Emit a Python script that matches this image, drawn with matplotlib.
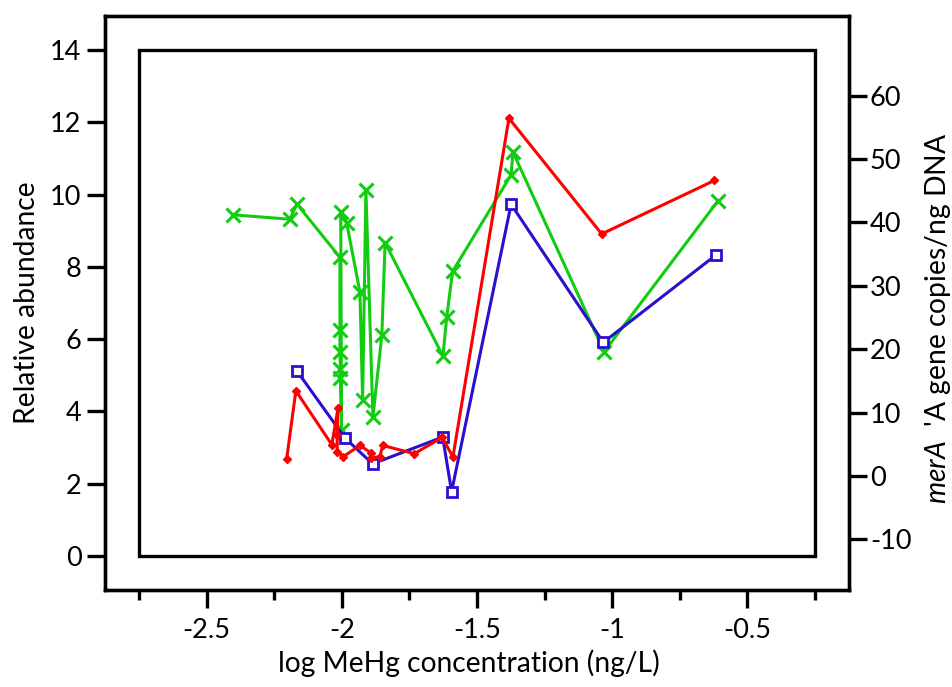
import numpy as np
import matplotlib
matplotlib.use("Agg")
import matplotlib.pyplot as plt
from matplotlib.patches import Rectangle
from matplotlib.ticker import FixedLocator, FuncFormatter

plt.rcParams['font.family'] = ['Lato', 'DejaVu Sans']
plt.rcParams['mathtext.fontset'] = 'custom'
plt.rcParams['mathtext.it'] = 'Lato:italic'
plt.rcParams['mathtext.rm'] = 'Lato'

# log MeHg concentration (ng/L) and relative abundance (left axis)
x_red = [-2.204, -2.170, -2.037, -2.014, -2.017, -2.017, -1.994, -1.933, -1.892,
         -1.892, -1.859, -1.849, -1.732, -1.629, -1.589, -1.382, -1.039, -0.622]
red = [2.68, 4.57, 3.08, 4.09, 3.35, 2.89, 2.75, 3.06, 2.85,
       2.71, 2.75, 3.06, 2.83, 3.28, 2.74, 12.11, 8.91, 10.39]

x_blue = [-2.167, -1.988, -1.886, -1.627, -1.594, -1.374, -1.033, -0.616]
blue = [5.13, 3.26, 2.55, 3.29, 1.78, 9.73, 5.91, 8.33]

# merA gene copies/ng DNA (right axis)
x_green = [-2.402, -2.192, -2.166, -2.007, -2.007, -2.007, -2.005, -2.005,
           -2.001, -2.004, -1.982, -1.933, -1.923, -1.911, -1.885, -1.852,
           -1.840, -1.626, -1.612, -1.590, -1.374, -1.367, -1.030, -0.609]
green = [41.2, 40.5, 42.9, 34.5, 23.0, 19.6, 16.9, 15.4,
         7.2, 41.7, 39.9, 29.0, 12.0, 45.1, 9.3, 22.2,
         36.8, 18.9, 25.1, 32.3, 47.5, 51.1, 19.6, 43.4]

x_ticks = [-2.5, -2, -1.5, -1, -0.5]
x_minor = [-2.75, -2.25, -1.75, -1.25, -0.75, -0.25]
left_ticks = [0, 2, 4, 6, 8, 10, 12, 14]
right_ticks = [-10, 0, 10, 20, 30, 40, 50, 60]

LW = 2.4
FS = 19.5     # tick labels
LFS = 20.3    # axis titles

fig = plt.figure(figsize=(9.53, 6.87), dpi=100)
ax = fig.add_axes([0.1102, 0.1412, 0.7807, 0.8355])
ax2 = ax.twinx()

# green on the right axis, drawn below the left-axis series
ax2.plot(x_green, green, color='#11cc11', lw=2.2, marker='x',
         markersize=10, mew=2.2, zorder=2)
ax.set_zorder(ax2.get_zorder() + 1)
ax.patch.set_visible(False)

ax.plot(x_blue, blue, color='#2a0fd0', lw=2.2, marker='s', markersize=7,
        mfc='white', mew=2.0, zorder=3)
ax.plot(x_red, red, color='#ff0000', lw=2.2, marker='D', markersize=4.5,
        mew=1.0, zorder=4)

# inner frame
ax.add_patch(Rectangle((-2.75, 0), 2.5, 14, fill=False, lw=LW,
                       edgecolor='black', zorder=1))

ax.set_xlim(-2.8757, -0.1243)
ax.set_ylim(-0.941, 14.94)
ax2.set_ylim(-18.0, 72.57)

ax.set_xticks(x_ticks)
ax.xaxis.set_minor_locator(FixedLocator(x_minor))
ax.xaxis.set_major_formatter(FuncFormatter(lambda v, p: f"{v:g}"))
ax.set_yticks(left_ticks)
ax2.set_yticks(right_ticks)
ax2.yaxis.set_major_formatter(FuncFormatter(lambda v, p: f"{v:g}"))

for a in (ax, ax2):
    for s in a.spines.values():
        s.set_linewidth(LW)

ax.tick_params(axis='x', which='major', direction='out', length=13, width=LW,
               labelsize=FS, pad=7)
ax.tick_params(axis='x', which='minor', direction='out', length=7, width=LW)
ax.tick_params(axis='y', direction='out', length=13, width=LW, labelsize=FS, pad=4)
ax2.tick_params(axis='y', direction='out', length=13, width=LW, labelsize=FS, pad=2)

ax.set_xlabel('log MeHg concentration (ng/L)', fontsize=LFS)
ax.xaxis.set_label_coords(0.489, -0.104)
ax.set_ylabel('Relative abundance', fontsize=LFS)
ax.yaxis.set_label_coords(-0.087, 0.5)
ax2.set_ylabel(r"$\it{merA}$  'A gene copies/ng DNA", fontsize=LFS)
ax2.yaxis.set_label_coords(1.100, 0.474)

fig.savefig('out.png', dpi=100)
